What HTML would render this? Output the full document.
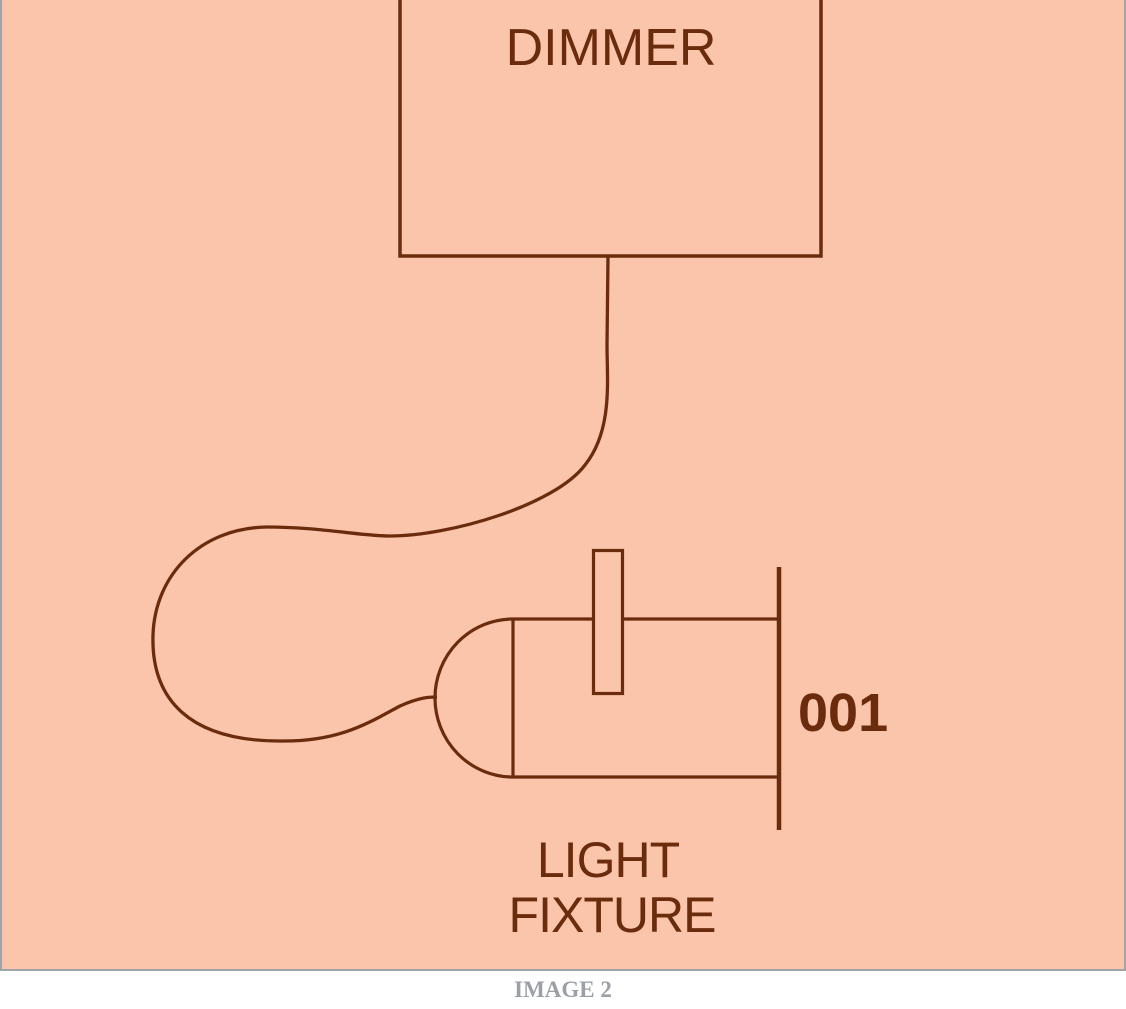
<!DOCTYPE html>
<html>
<head>
<meta charset="utf-8">
<style>
  html, body { margin: 0; padding: 0; background: #ffffff; }
  body { width: 1126px; height: 1009px; position: relative; overflow: hidden; }
  svg { position: absolute; left: 0; top: 0; }
</style>
</head>
<body>
<svg width="1126" height="1009" viewBox="0 0 1126 1009" xmlns="http://www.w3.org/2000/svg">
  <!-- panel -->
  <rect x="0" y="-5" width="1126" height="976" fill="#fac5ab"/>
  <line x1="1" y1="0" x2="1" y2="971" stroke="#a0a4a8" stroke-width="2"/>
  <line x1="1125" y1="0" x2="1125" y2="971" stroke="#a0a4a8" stroke-width="2"/>
  <line x1="0" y1="970" x2="1126" y2="970" stroke="#a0a4a8" stroke-width="2"/>

  <g fill="none" stroke="#6a2c0d" stroke-linejoin="miter">
    <!-- dimmer box -->
    <path d="M400 -5 L400 256 L821 256 L821 -5" stroke-width="3.5"/>
    <!-- cable -->
    <path d="M608 256 L607 345 C607 380 613 430 585 465 C555 505 450 536 390 536 C360 536 320 527 267 527 C200 528 155 575 153 635 C151 700 190 741 280 741 C340 742 370 722 400 706 C420 697 430 697 437 697" stroke-width="3.3"/>
    <!-- dome -->
    <path d="M513 619 A78 79 0 0 0 513 777" stroke-width="3.2"/>
    <line x1="513" y1="619" x2="513" y2="777" stroke-width="3.2"/>
    <!-- body lines -->
    <line x1="513" y1="619" x2="593" y2="619" stroke-width="3.2"/>
    <line x1="622" y1="619" x2="778" y2="619" stroke-width="3.2"/>
    <line x1="513" y1="777" x2="778" y2="777" stroke-width="3.2"/>
    <!-- lens bar -->
    <line x1="779" y1="567" x2="779" y2="830" stroke-width="4.5"/>
    <!-- small rect -->
    <rect x="593.5" y="550.5" width="29" height="143" stroke-width="3.2"/>
  </g>

  <g fill="#6a2c0d" font-family="'Liberation Sans', Arial, sans-serif">
    <text x="611" y="65" font-size="52" text-anchor="middle">DIMMER</text>
    <text x="798" y="731" font-size="54" font-weight="bold">001</text>
    <text x="608" y="877" font-size="50" text-anchor="middle" letter-spacing="-1">LIGHT</text>
    <text x="612" y="932" font-size="50" text-anchor="middle" letter-spacing="-1">FIXTURE</text>
  </g>

  <text x="563" y="997" font-size="23" font-weight="bold" text-anchor="middle" fill="#9aa0a5" font-family="'Liberation Serif', serif">IMAGE 2</text>
</svg>
</body>
</html>
